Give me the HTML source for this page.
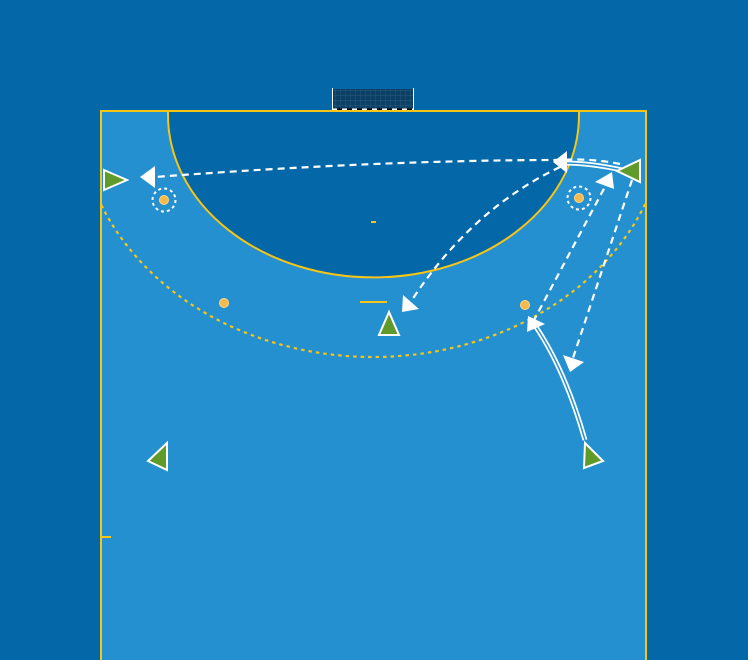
<!DOCTYPE html>
<html><head><meta charset="utf-8"><style>
html,body{margin:0;padding:0;background:#0467a8;}
svg{display:block}
</style></head><body>
<svg width="748" height="660" viewBox="0 0 748 660" xmlns="http://www.w3.org/2000/svg">
<defs>
<clipPath id="court"><rect x="101" y="111" width="545" height="549"/></clipPath>
<pattern id="net" width="5" height="5" patternUnits="userSpaceOnUse"><path d="M0 0H5M0 0V5" stroke="#3a5f80" stroke-width="0.7" fill="none"/></pattern>
</defs>
<rect width="748" height="660" fill="#0467a8"/>
<!-- goal -->
<rect x="332" y="89" width="82" height="21" fill="#0a3f66"/>
<rect x="332" y="89" width="82" height="21" fill="url(#net)"/>
<line x1="332.5" y1="88" x2="332.5" y2="110" stroke="#fff" stroke-width="1"/>
<line x1="413.5" y1="88" x2="413.5" y2="110" stroke="#fff" stroke-width="1"/>
<line x1="332" y1="110" x2="414" y2="110" stroke="#000" stroke-width="3"/>
<line x1="332" y1="110" x2="414" y2="110" stroke="#fff" stroke-width="3" stroke-dasharray="5 5"/>
<!-- court -->
<rect x="101" y="111" width="545" height="552" fill="#2490d0" stroke="#f5c518" stroke-width="2"/>
<path d="M168 111 V115 A205 162 0 0 0 579 115 V111 Z" fill="#0467a8" stroke="#f5c518" stroke-width="2"/>
<g clip-path="url(#court)">
<path d="M79 111 A294 246 0 0 0 667 111" fill="none" stroke="#f5c518" stroke-width="2.2" stroke-dasharray="3.5 4"/>
</g>
<line x1="371" y1="222" x2="376" y2="222" stroke="#f5c518" stroke-width="2"/>
<line x1="360" y1="302" x2="387" y2="302" stroke="#f5c518" stroke-width="2"/>
<line x1="101" y1="537" x2="111" y2="537" stroke="#f5c518" stroke-width="2"/>
<!-- cones -->
<g fill="#f6b94a" stroke="#ffd98a" stroke-width="1">
<circle cx="164" cy="200" r="4.5"/><circle cx="579" cy="198" r="4.5"/>
<circle cx="224" cy="303" r="4.5"/><circle cx="525" cy="305" r="4.5"/>
</g>
<circle cx="164" cy="200" r="11.5" fill="none" stroke="#fff" stroke-width="2" stroke-dasharray="3 3"/>
<circle cx="579" cy="198" r="11.5" fill="none" stroke="#fff" stroke-width="2" stroke-dasharray="3 3"/>
<!-- dashed lines -->
<g fill="none" stroke="#fff" stroke-width="2.2" stroke-dasharray="7 5">
<path d="M620 164 Q590 158 560 160 Q380 160 155 177"/>
<path d="M560 167 Q470 210 410 303"/>
<path d="M533 322 L607 183"/>
<path d="M632 180 L573 358"/>
</g>
<!-- solid double lines -->
<g fill="none" stroke="#fff" stroke-width="5">
<path d="M622 170 Q590 163 564 163"/>
<path d="M585 440 Q565 370 536 327"/>
</g>
<g fill="none" stroke="#2490d0" stroke-width="1.5">
<path d="M622 170 Q590 163 564 163"/>
<path d="M585 440 Q565 370 536 327"/>
</g>
<!-- arrowheads -->
<g fill="#fff">
<polygon points="140,177 155,166 155,188"/>
<polygon points="553,162 567,151 567,173"/>
<polygon points="402,312 403,295 419,309"/>
<polygon points="527,332 528,316 545,324"/>
<polygon points="612,172 614,189 595,182"/>
<polygon points="570,372 563,355 584,362"/>
</g>
<!-- players -->
<g fill="#5f9a2a" stroke="#fff" stroke-width="2" stroke-linejoin="miter">
<polygon points="104,170 104,190 127,180"/>
<polygon points="640,160 640,182 617,171"/>
<polygon points="389,312 379,335 399,335"/>
<polygon points="167,443 167,470 148,461"/>
<polygon points="585,443 584,468 603,461"/>
</g>
</svg>
</body></html>
